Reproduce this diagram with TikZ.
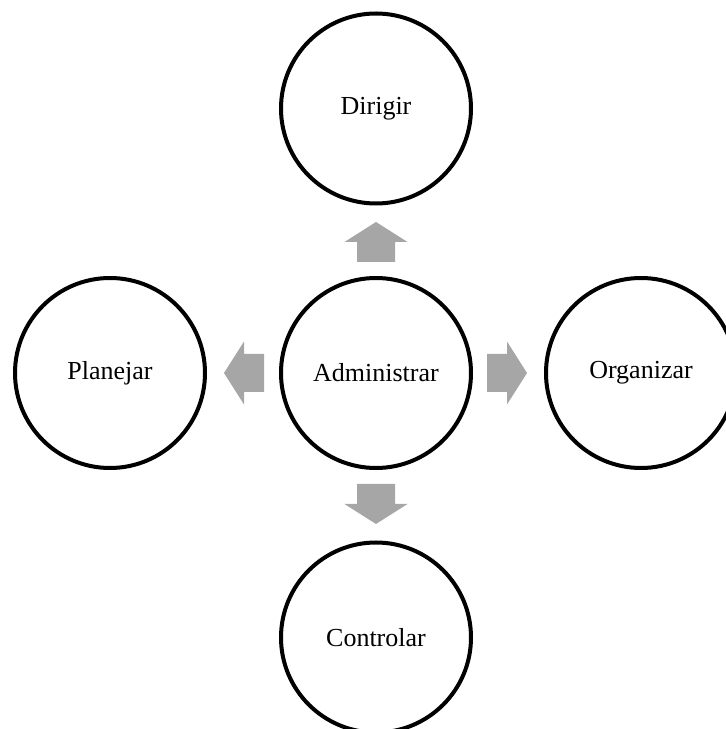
\documentclass[tikz,border=0pt]{standalone}
\usepackage{fontspec}
\setmainfont{Liberation Serif}
\usetikzlibrary{calc}
\definecolor{arrowgray}{HTML}{A6A6A6}
\tikzset{
  stage/.style={circle, draw=black, line width=4pt, fill=white, minimum size=190pt, inner sep=0pt,
    font=\fontsize{26}{31}\selectfont},
  blockarrow/.pic={
    \fill[arrowgray] (0,-19) -- (20,-19) -- (20,-31.5) -- (40,0) -- (20,31.5) -- (20,19) -- (0,19) -- cycle;
  }
}
\begin{document}
\begin{tikzpicture}[x=1pt,y=1pt]
\useasboundingbox (0,0) rectangle (726,729);
\clip (0,0) rectangle (726,729);
\node[stage] (adm) at (376,356) {Administrar};
\node[stage] (dir) at (376,620.5) {Dirigir};
\node[stage] (pla) at (110,356) {Planejar};
\node[stage] (org) at (641,356) {Organizar};
\node[stage] (con) at (376,91.5) {Controlar};
\pic[rotate=90] at ($(adm.center)+(0,111)$) {blockarrow};
\pic[rotate=180] at ($(adm.center)+(-112,0)$) {blockarrow};
\pic at ($(adm.center)+(111,0)$) {blockarrow};
\pic[rotate=-90] at ($(adm.center)+(0,-111)$) {blockarrow};
\end{tikzpicture}
\end{document}
